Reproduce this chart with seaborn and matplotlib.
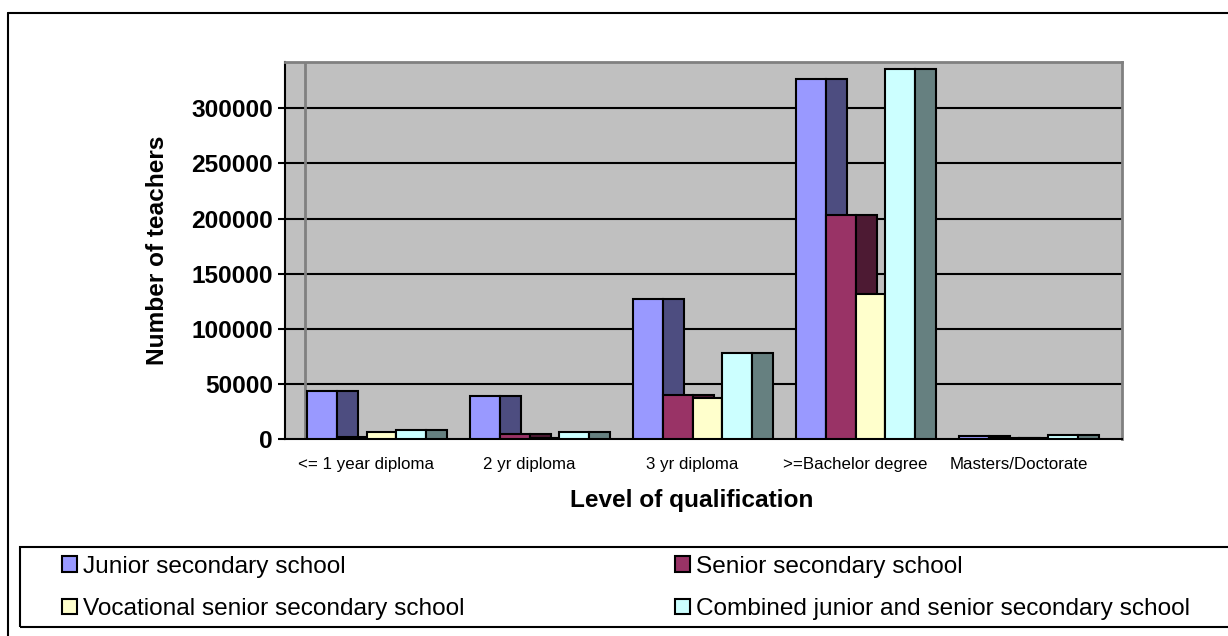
import numpy as np
import pandas as pd
import matplotlib
matplotlib.use("Agg")
import matplotlib.pyplot as plt
import seaborn as sns
from matplotlib.patches import Rectangle, Patch
from matplotlib.lines import Line2D

# ---------------- data ----------------
categories = ["<= 1 year diploma", "2 yr diploma", "3 yr diploma",
              ">=Bachelor degree", "Masters/Doctorate"]
series_names = ["Junior secondary school", "Senior secondary school",
                "Vocational senior secondary school",
                "Combined junior and senior secondary school"]
junior = [44000, 39000, 127500, 326500, 3000]
senior = [1800, 4500, 40000, 203000, 1500]
vocational = [6500, 1000, 37000, 132000, 800]
combined = [8000, 6500, 78000, 335500, 4000]
y_ticks = [0, 50000, 100000, 150000, 200000, 250000, 300000]

front_colors = ["#9999FF", "#993366", "#FFFFCC", "#CCFFFF"]
side_colors = ["#4D4D80", "#4D1A33", "#808066", "#668080"]

# ---------------- style ----------------
sns.set_style("white")
plt.rcParams["font.family"] = ["Liberation Sans", "DejaVu Sans"]
plt.rcParams["text.color"] = "black"
plt.rcParams["axes.labelcolor"] = "black"
plt.rcParams["xtick.color"] = "black"
plt.rcParams["ytick.color"] = "black"

W, H = 1228, 636
fig = plt.figure(figsize=(W / 100, H / 100), dpi=100)
fig.patch.set_facecolor("white")

ax_left, ax_right, ax_top, ax_bottom = 285, 1122, 62, 439.3
ax = fig.add_axes([ax_left / W, 1 - ax_bottom / H,
                   (ax_right - ax_left) / W, (ax_bottom - ax_top) / H])
ax.set_facecolor("#C0C0C0")

rows = []
for name, vals in zip(series_names, [junior, senior, vocational, combined]):
    for c, v in zip(categories, vals):
        rows.append({"Level": c, "Teachers": v, "School": name})
df = pd.DataFrame(rows)

sns.barplot(data=df, x="Level", y="Teachers", hue="School",
            order=categories, hue_order=series_names, palette=front_colors,
            width=0.729, saturation=1, edgecolor="black", linewidth=1.5,
            errorbar=None, legend=False, ax=ax)

# 3D-like side faces
depth = 0.132
for k, cont in enumerate(ax.containers):
    for bar in cont:
        bar.set_zorder(3 + k)
        x1 = bar.get_x() + bar.get_width()
        side = Rectangle((x1, bar.get_y()), depth, bar.get_height(),
                         facecolor=side_colors[k], edgecolor="black",
                         linewidth=1.5, zorder=3 + k + 0.1)
        ax.add_patch(side)

# gridlines & back wall edge
for t in y_ticks[1:]:
    ax.axhline(t, color="black", lw=1.5, zorder=1)
ax.axvline(-0.5 + 20 / 163, color="#808080", lw=2, zorder=1)

ax.set_ylim(0, 342000)
ax.set_xlim(-0.5, -0.5 + (ax_right - ax_left) / 163)

# x axis
ax.set_xticks(range(len(categories)))
ax.set_xticklabels(categories, fontsize=12.2, color="black")
ax.tick_params(axis="x", which="major", length=0, pad=12.6)
ax.set_xticks(np.arange(-0.5, len(categories), 1), minor=True)
ax.tick_params(axis="x", which="minor", length=4.5, width=1.5,
               direction="out", color="black")

# y axis
ax.set_yticks(y_ticks)
ax.set_yticklabels([str(t) for t in y_ticks], fontsize=17.6,
                   fontweight="bold", color="black")
ax.tick_params(axis="y", length=5, width=1.5, pad=3.6, direction="out",
               color="black", left=True)

ax.set_xlabel("Level of qualification", fontsize=17.6, fontweight="bold",
              va="center", color="black")
ax.xaxis.set_label_coords(0.486, -(501 - ax_bottom) / (ax_bottom - ax_top))
ax.set_ylabel("Number of teachers", fontsize=17.6, fontweight="bold",
              va="center", color="black")
ax.yaxis.set_label_coords((158 - ax_left) / (ax_right - ax_left), 0.5)

for s in ["left", "bottom"]:
    ax.spines[s].set_color("black")
    ax.spines[s].set_linewidth(1.5)
for s in ["top", "right"]:
    ax.spines[s].set_color("#808080")
    ax.spines[s].set_linewidth(2)

# outer chart frame (top & left visible)
fig.add_artist(Line2D([8 / W, 1], [1 - 13 / H, 1 - 13 / H],
                      transform=fig.transFigure, color="black", lw=1.5))
fig.add_artist(Line2D([8 / W, 8 / W], [0, 1 - 13 / H],
                      transform=fig.transFigure, color="black", lw=1.5))

# legend box
fig.add_artist(Rectangle((20 / W, 1 - 627 / H), 1.2, (627 - 547) / H,
                         transform=fig.transFigure, fill=False,
                         edgecolor="black", lw=1.5))

handles = [Patch(facecolor=front_colors[i], edgecolor="black", linewidth=1.5)
           for i in range(4)]
order = [0, 2, 1, 3]
fig.legend([handles[i] for i in order], [series_names[i] for i in order],
           loc="upper left", bbox_to_anchor=(62 / W, 1 - 556 / H),
           ncol=2, frameon=False, fontsize=17.6, handlelength=0.62,
           handleheight=0.62, handletextpad=0.25, columnspacing=8.6,
           labelspacing=0.82, borderpad=0, borderaxespad=0)

fig.savefig("out.png", dpi=100)
